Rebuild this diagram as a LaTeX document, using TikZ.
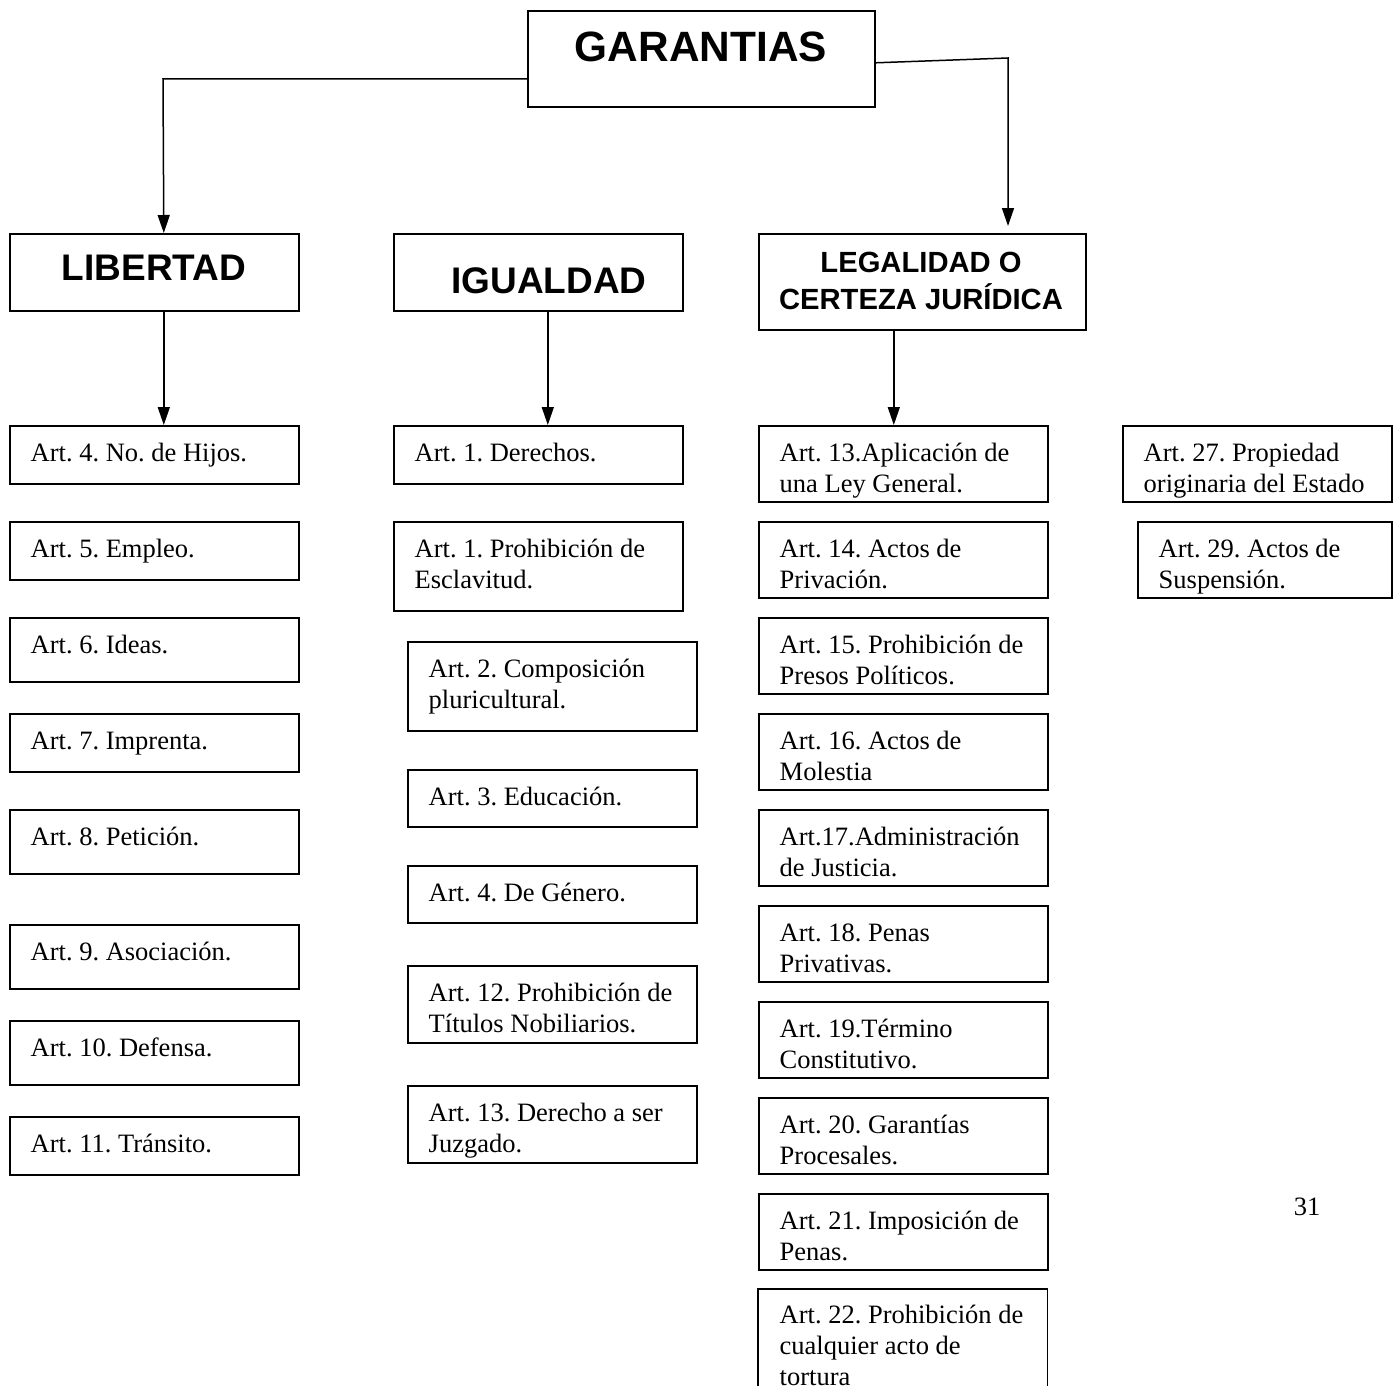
\documentclass[tikz,border=0pt]{standalone}
\usepackage{fontspec}
\setmainfont{Liberation Serif}
\newfontfamily\hdrfont{Liberation Sans}
\usetikzlibrary{arrows.meta}
\frenchspacing
\tikzset{
  box/.style={draw, line width=1.6pt, rectangle, inner sep=0pt, fill=none},
  txt/.style={inner sep=0pt, align=left, font=\fontsize{26.5}{31}\selectfont\frenchspacing},
  hdr/.style={inner sep=0pt, align=center},
  arr/.style={line width=1.5pt, -{Triangle[length=18pt,width=12pt]}},
}
\newcommand\abox[6]{%
  \node[box, minimum width={#4-#2}, minimum height={#5-#3}, anchor=north west] (#1) at (#2,#3) {};
  \node[txt, anchor=north west] (#1t) at (#2+21.5,#3+14.3) {\strut #6};}
\begin{document}
\begin{tikzpicture}[x=1pt,y=-1pt]
\path[use as bounding box, fill=white] (0,0) rectangle (1400,1386);
% top
\node[box, minimum width=347, minimum height=96, anchor=north west] (gar) at (527,10) {};
\node[hdr, anchor=base, font=\hdrfont\bfseries\fontsize{42.4}{48}\selectfont] (gart) at (701,62) {GARANTIAS};
% headers
\node[box, minimum width=289, minimum height=77, anchor=north west] (lib) at (9,233) {};
\node[hdr, anchor=base, font=\hdrfont\bfseries\fontsize{37}{42}\selectfont] (libt) at (154,280) {LIBERTAD};
\node[box, minimum width=289, minimum height=77, anchor=north west] (igu) at (393,233) {};
\node[hdr, anchor=base, font=\hdrfont\bfseries\fontsize{37}{42}\selectfont] (igut) at (549,293) {IGUALDAD};
\node[box, minimum width=327, minimum height=96, anchor=north west] (leg) at (758,233) {};
\node[hdr, anchor=north, font=\hdrfont\bfseries\fontsize{29.2}{34}\selectfont] (legt) at (921,248.2) {\strut LEGALIDAD O\\CERTEZA JURÍDICA};
% left column
\abox{a4}{9}{425}{298}{483}{Art. 4. No. de Hijos.}
\abox{a5}{9}{521}{298}{579}{Art. 5. Empleo.}
\abox{a6}{9}{617}{298}{681}{Art. 6. Ideas.}
\abox{a7}{9}{713}{298}{771}{Art. 7. Imprenta.}
\abox{a8}{9}{809}{298}{873}{Art. 8. Petición.}
\abox{a9}{9}{924}{298}{988}{Art. 9. Asociación.}
\abox{a10}{9}{1020}{298}{1084}{Art. 10. Defensa.}
\abox{a11}{9}{1116}{298}{1174}{Art. 11. Tránsito.}
% middle column
\abox{b1}{393}{425}{682}{483}{Art. 1. Derechos.}
\abox{b1p}{393}{521}{682}{610}{Art. 1. Prohibición de\\Esclavitud.}
\abox{b2}{407}{641}{696}{730}{Art. 2. Composición\\pluricultural.}
\abox{b3}{407}{769}{696}{826}{Art. 3. Educación.}
\abox{b4}{407}{865}{696}{922}{Art. 4. De Género.}
\abox{b12}{407}{965}{696}{1042}{Art. 12. Prohibición de\\Títulos Nobiliarios.}
\abox{b13}{407}{1085}{696}{1162}{Art. 13. Derecho a ser\\Juzgado.}
% right column
\abox{c13}{758}{425}{1047}{501}{Art. 13.Aplicación de\\una Ley General.}
\abox{c14}{758}{521}{1047}{597}{Art. 14. Actos de\\Privación.}
\abox{c15}{758}{617}{1047}{693}{Art. 15. Prohibición de\\Presos Políticos.}
\abox{c16}{758}{713}{1047}{789}{Art. 16. Actos de\\Molestia}
\abox{c17}{758}{809}{1047}{885}{Art.17.Administración\\de Justicia.}
\abox{c18}{758}{905}{1047}{981}{Art. 18. Penas\\Privativas.}
\abox{c19}{758}{1001}{1047}{1077}{Art. 19.Término\\Constitutivo.}
\abox{c20}{758}{1097}{1047}{1173}{Art. 20. Garantías\\Procesales.}
\abox{c21}{758}{1193}{1047}{1269}{Art. 21. Imposición de\\Penas.}
% open-bottom box
\node[inner sep=0pt, minimum width=289, minimum height=97, anchor=north west] (c22) at (758,1289) {};
\draw[line width=1.6pt] (c22.south west) -- (c22.north west) -- (c22.north east) -- (c22.south east);
\node[txt, anchor=north west] (c22t) at (779.5,1302) {\strut Art. 22. Prohibición de\\cualquier acto de\\tortura};
% far right
\abox{d27}{1122}{425}{1391}{501}{Art. 27. Propiedad\\originaria del Estado}
\abox{d29}{1137}{521}{1391}{597}{Art. 29. Actos de\\Suspensión.}
% page number
\node[inner sep=0pt, anchor=base, font=\fontsize{26.5}{31}\selectfont] (pg) at (1307,1215) {31};
% connectors
\coordinate (lc) at (163,79);
\coordinate (rc) at (1008,58);
\draw[arr] (gar.west |- lc) -- (lc) -- ([xshift=9.5pt]lib.north);
\draw[arr, shorten >=7pt] ([yshift=-4pt]gar.east) -- (rc) -- (rc |- leg.north);
\draw[arr] ([xshift=9.5pt]lib.south) -- ([xshift=9.5pt]a4.north);
\draw[arr] ([xshift=9.5pt]igu.south) -- ([xshift=9.5pt]b1.north);
\draw[arr] ([xshift=-9.5pt]c13.north |- leg.south) -- ([xshift=-9.5pt]c13.north);
\end{tikzpicture}
\end{document}
